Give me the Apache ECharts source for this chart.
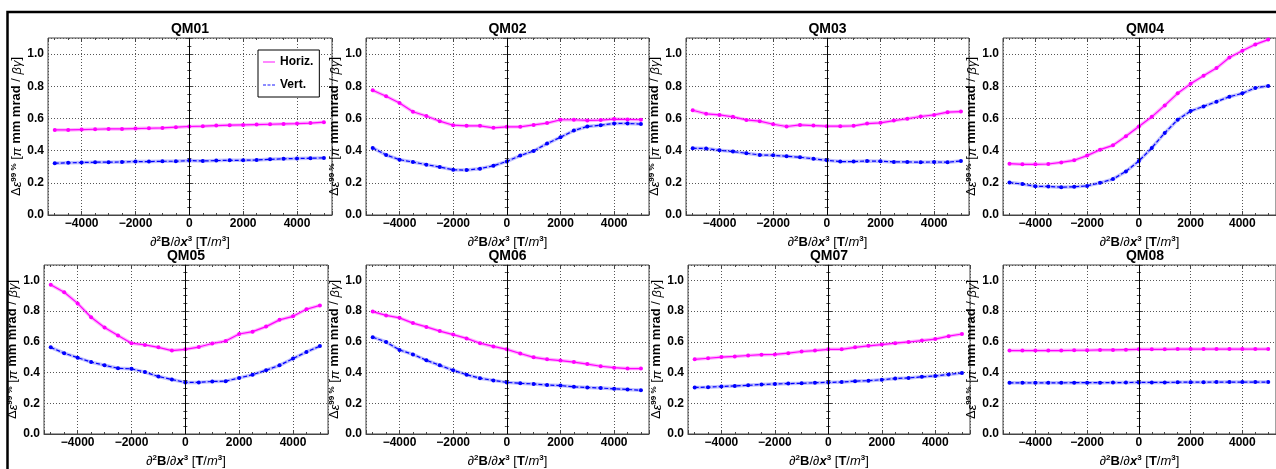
<!DOCTYPE html>
<html><head><meta charset="utf-8">
<script src="https://cdn.jsdelivr.net/npm/echarts@6/dist/echarts.min.js"></script>
<style>html,body{margin:0;padding:0;background:#fff}#c{width:1276px;height:469px}</style>
</head><body><div id="c"></div>
<script>
// ---- data ----
const xValues = [-5000,-4500,-4000,-3500,-3000,-2500,-2000,-1500,-1000,-500,0,500,1000,1500,2000,2500,3000,3500,4000,4500,5000];
const panelNames = ['QM01','QM02','QM03','QM04','QM05','QM06','QM07','QM08'];
const seriesNames = ['Horiz.','Vert.'];

const qm01Horiz = [0.529,0.529,0.531,0.533,0.535,0.535,0.537,0.539,0.541,0.546,0.550,0.552,0.556,0.558,0.560,0.562,0.564,0.566,0.568,0.571,0.577];
const qm01Vert  = [0.322,0.324,0.326,0.328,0.328,0.330,0.332,0.332,0.334,0.334,0.338,0.336,0.338,0.340,0.340,0.342,0.346,0.349,0.351,0.353,0.355];
const qm02Horiz = [0.775,0.738,0.696,0.642,0.615,0.583,0.558,0.554,0.554,0.542,0.548,0.548,0.560,0.571,0.592,0.592,0.588,0.590,0.596,0.594,0.592];
const qm02Vert  = [0.417,0.373,0.344,0.329,0.313,0.298,0.281,0.279,0.288,0.306,0.333,0.369,0.398,0.444,0.483,0.525,0.550,0.558,0.569,0.569,0.565];
const qm03Horiz = [0.651,0.629,0.622,0.610,0.591,0.583,0.564,0.550,0.560,0.556,0.552,0.552,0.554,0.568,0.573,0.587,0.598,0.612,0.622,0.639,0.643];
const qm03Vert  = [0.415,0.413,0.402,0.394,0.384,0.373,0.371,0.365,0.359,0.349,0.340,0.332,0.332,0.336,0.334,0.330,0.330,0.328,0.330,0.328,0.336];
const qm04Horiz = [0.319,0.315,0.315,0.317,0.327,0.340,0.369,0.406,0.433,0.490,0.550,0.610,0.681,0.756,0.815,0.865,0.913,0.979,1.021,1.060,1.090];
const qm04Vert  = [0.202,0.192,0.179,0.177,0.173,0.175,0.181,0.200,0.223,0.271,0.335,0.417,0.510,0.592,0.646,0.675,0.704,0.735,0.756,0.790,0.802];
const qm05Horiz = [0.971,0.923,0.850,0.760,0.693,0.641,0.591,0.580,0.564,0.543,0.551,0.566,0.589,0.605,0.651,0.666,0.699,0.743,0.766,0.812,0.837];
const qm05Vert  = [0.564,0.526,0.497,0.468,0.447,0.428,0.424,0.403,0.374,0.355,0.336,0.336,0.342,0.344,0.365,0.386,0.415,0.447,0.491,0.534,0.572];
const qm06Horiz = [0.797,0.772,0.756,0.722,0.697,0.670,0.647,0.622,0.591,0.570,0.551,0.524,0.499,0.486,0.478,0.468,0.455,0.441,0.432,0.426,0.426];
const qm06Vert  = [0.630,0.599,0.547,0.518,0.480,0.447,0.415,0.386,0.363,0.349,0.336,0.330,0.326,0.319,0.315,0.307,0.303,0.299,0.294,0.290,0.284];
const qm07Horiz = [0.486,0.493,0.501,0.505,0.511,0.516,0.518,0.526,0.537,0.543,0.551,0.551,0.564,0.574,0.582,0.591,0.599,0.608,0.618,0.637,0.651];
const qm07Vert  = [0.303,0.305,0.309,0.313,0.317,0.322,0.326,0.328,0.330,0.334,0.336,0.338,0.344,0.347,0.353,0.361,0.365,0.372,0.378,0.388,0.397];
const qm08Horiz = [0.543,0.543,0.543,0.543,0.543,0.545,0.545,0.547,0.547,0.549,0.551,0.551,0.551,0.553,0.553,0.553,0.553,0.553,0.553,0.553,0.553];
const qm08Vert  = [0.333,0.333,0.333,0.333,0.333,0.334,0.334,0.334,0.335,0.335,0.336,0.336,0.336,0.337,0.337,0.337,0.338,0.338,0.338,0.338,0.338];

const horizData = [qm01Horiz,qm02Horiz,qm03Horiz,qm04Horiz,qm05Horiz,qm06Horiz,qm07Horiz,qm08Horiz];
const vertData  = [qm01Vert,qm02Vert,qm03Vert,qm04Vert,qm05Vert,qm06Vert,qm07Vert,qm08Vert];

// ---- layout ----
const layout = [
  {left:48,  top:38,  width:284, height:177},
  {left:366, top:38,  width:283, height:177},
  {left:686, top:38,  width:283, height:177},
  {left:1003,top:38,  width:284, height:177},
  {left:44,  top:265, width:284, height:176},
  {left:366, top:265, width:283, height:176},
  {left:688, top:265, width:282, height:176},
  {left:1003,top:265, width:284, height:176}
];
const FONT = 'Liberation Sans';
const MAGENTA = '#ff00ff', BLUE = '#0000ff';
const FRAME = '#444';
const LH = 14;

function tok(extra){ return Object.assign({fontFamily:FONT,fontSize:13,color:'#000',lineHeight:LH,verticalAlign:'bottom'}, extra||{}); }
const supStyle = {fontFamily:FONT,fontSize:8,fontWeight:'bold',color:'#000',lineHeight:LH,verticalAlign:'top'};

const xName = '{p|∂}{s|2}{b|B}{p|/∂}{bi|x}{s|3}{p| [}{b|T}{p|/}{i|m}{s|3}{p|]}';
const xNameRich = {p:tok(), b:tok({fontWeight:'bold'}), bi:tok({fontWeight:'bold',fontStyle:'italic'}), i:tok({fontStyle:'italic'}), s:supStyle};
const yName = '{p|Δ}{i|ε}{s|99 %}{p| [}{i|π}{b| mm mrad }{p|/ }{i|βγ}{p|]}';
const yNameRich = {p:tok(), b:tok({fontWeight:'bold'}), i:tok({fontStyle:'italic'}), s:supStyle};

const grids = [], xAxes = [], yAxes = [], titles = [], series = [];
const xTop = [], yRight = [];
panelNames.forEach((name, i) => {
  const L = layout[i];
  grids.push({left:L.left, top:L.top, width:L.width, height:L.height, show:true,
    borderColor:FRAME, borderWidth:1, backgroundColor:'transparent', containLabel:false});
  titles.push({text:name, left:L.left + L.width/2, top:L.top - 16, textAlign:'center', padding:0,
    textStyle:{fontFamily:FONT, fontSize:14, fontWeight:'bold', color:'#000'}});
  xAxes.push({type:'value', gridIndex:i, min:-5250, max:5300, splitNumber:5,
    name:xName, nameLocation:'middle', nameGap:20,
    nameTextStyle:{rich:xNameRich},
    axisLine:{show:true, onZero:false, lineStyle:{color:FRAME, width:1}},
    axisTick:{show:true, inside:true, length:4, lineStyle:{color:FRAME}},
    minorTick:{show:true, splitNumber:4, length:2, lineStyle:{color:FRAME}},
    axisLabel:{margin:3, showMinLabel:false, showMaxLabel:false, fontFamily:FONT, fontSize:12, fontWeight:'bold', color:'#000',
      formatter:v => v < 0 ? '\u2212' + Math.abs(v) : String(v)},
    splitLine:{show:true, lineStyle:{color:'#555', type:[1,2], width:1}}
  });
  xTop.push({type:'value', gridIndex:i, position:'top', min:-5250, max:5300, splitNumber:5,
    axisLine:{show:false, onZero:false},
    axisTick:{show:true, inside:true, length:4, lineStyle:{color:FRAME}},
    minorTick:{show:true, splitNumber:4, length:2, lineStyle:{color:FRAME}},
    axisLabel:{show:false}, splitLine:{show:false}});
  yAxes.push({type:'value', gridIndex:i, min:0, max:1.1, interval:0.2,
    name:yName, nameLocation:'middle', nameRotate:90, nameGap:23,
    nameTextStyle:{rich:yNameRich},
    axisLine:{show:true, lineStyle:{color:FRAME, width:1}},
    axisTick:{show:true, inside:true, length:4, lineStyle:{color:FRAME}},
    minorTick:{show:true, splitNumber:4, length:2, lineStyle:{color:FRAME}},
    axisLabel:{margin:4, showMaxLabel:false, fontFamily:FONT, fontSize:12, fontWeight:'bold', color:'#000',
      formatter:v => v.toFixed(1)},
    splitLine:{show:true, lineStyle:{color:'#555', type:[1,2], width:1}}
  });
  yRight.push({type:'value', gridIndex:i, position:'right', min:0, max:1.1, interval:0.2,
    axisLine:{show:false},
    axisTick:{show:true, inside:true, length:4, lineStyle:{color:FRAME}},
    minorTick:{show:true, splitNumber:4, length:2, lineStyle:{color:FRAME}},
    axisLabel:{show:false}, splitLine:{show:false}});
  const hPts = xValues.map((x,j) => [x, horizData[i][j]]);
  const vPts = xValues.map((x,j) => [x, vertData[i][j]]);
  // soft halos under the lines
  series.push({type:'line', name:'Horiz. halo', xAxisIndex:i, yAxisIndex:i, data:hPts, symbol:'none', silent:true,
    lineStyle:{color:MAGENTA, width:3.5, opacity:0.3}, z:2});
  series.push({type:'line', name:'Vert. halo', xAxisIndex:i, yAxisIndex:i, data:vPts, symbol:'none', silent:true,
    lineStyle:{color:BLUE, width:3.5, opacity:0.25}, z:2});
  series.push({type:'line', name:seriesNames[0], xAxisIndex:i, yAxisIndex:i, data:hPts,
    symbol:'circle', symbolSize:4, itemStyle:{color:MAGENTA},
    lineStyle:{color:MAGENTA, width:1.2}, z:3,
    markLine:{silent:true, symbol:['none','none'], label:{show:false}, animation:false,
      lineStyle:{color:'#000', type:'solid', width:1}, data:[{xAxis:0}]}});
  series.push({type:'line', name:seriesNames[1], xAxisIndex:i, yAxisIndex:i, data:vPts,
    symbol:'circle', symbolSize:4, itemStyle:{color:BLUE},
    lineStyle:{color:BLUE, width:1.2, type:[4,2]}, z:3});
});

const option = {
  animation:false,
  backgroundColor:'#fff',
  title:titles,
  grid:grids,
  xAxis:xAxes.concat(xTop),
  yAxis:yAxes.concat(yRight),
  legend:{
    left:258, top:50, orient:'vertical', padding:[5,6,5,5], itemGap:9, itemWidth:12, itemHeight:10,
    backgroundColor:'#fff', borderColor:'#000', borderWidth:1, borderRadius:0,
    textStyle:{fontFamily:FONT, fontSize:12, fontWeight:'bold', color:'#000', lineHeight:14},
    data:[
      {name:seriesNames[0], icon:'path://M0,0h12v1.4h-12z', itemStyle:{color:'#ff55ff'}},
      {name:seriesNames[1], icon:'path://M0,0h3v1.4h-3zM4.5,0h3v1.4h-3zM9,0h3v1.4h-3z', itemStyle:{color:'#6666ff'}}
    ]
  },
  graphic:[{type:'rect', silent:true, z:100,
    shape:{x:7.5, y:12, width:1400, height:600},
    style:{fill:'none', stroke:'#000', lineWidth:2.5}}],
  series:series
};
const chart = echarts.init(document.getElementById('c'), null, {renderer:'canvas'});
chart.setOption(option);
</script></body></html>
